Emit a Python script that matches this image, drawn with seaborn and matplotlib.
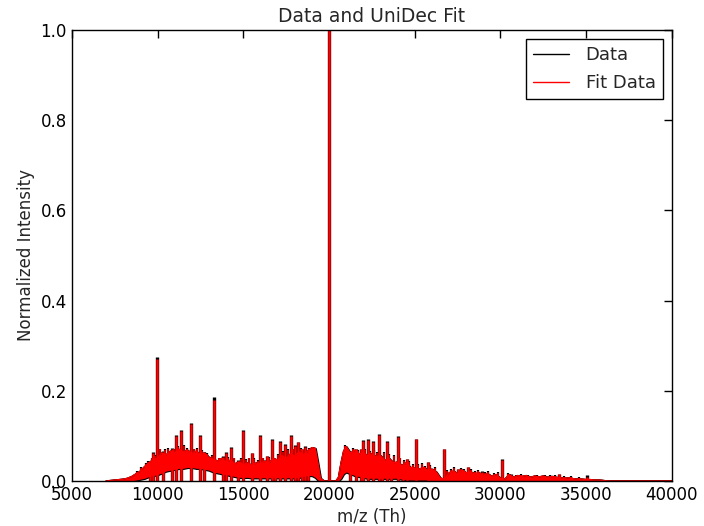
import matplotlib
matplotlib.use("Agg")
import matplotlib.pyplot as plt
import seaborn as sns
import pandas as pd

# Envelope of the dense charge-state region (m/z, upper edge, lower edge)
env_x = [7000, 7250, 7500, 7750, 8000, 8250, 8500, 8750, 9000, 9250, 9500, 9750,
         10000, 10250, 10500, 10750, 11000, 11250, 11500, 11750, 12000, 12250, 12500, 12750,
         13000, 13250, 13500, 13750, 14000, 14250, 14500, 14750, 15000, 15250, 15500, 15750,
         16000, 16250, 16500, 16750, 17000, 17250, 17500, 17750, 18000, 18250, 18500, 18750,
         19000, 19200, 19350, 19500, 19700, 20400, 20550, 20700, 20850, 21000, 21250, 21500,
         21750, 22000, 22250, 22500, 22750, 23000, 23250, 23500, 23750, 24000, 24250, 24500,
         24750, 25000, 25250, 25500, 25750, 26000, 26250, 26500, 26750, 27000, 27250, 27500,
         27750, 28000, 28250, 28500, 28750, 29000, 29250, 29500, 29750, 30000, 30250, 30500,
         30750, 31000, 31250, 31500, 31750, 32000, 32250, 32500, 32750, 33000, 33250, 33500,
         33750, 34000, 34250, 34500, 34750, 35000, 35250, 35500, 35750, 36000, 36250, 40000]
env_hi = [0.000, 0.001, 0.002, 0.003, 0.004, 0.006, 0.010, 0.016, 0.022, 0.032, 0.040, 0.048,
          0.050, 0.062, 0.058, 0.066, 0.062, 0.070, 0.064, 0.068, 0.060, 0.066, 0.058, 0.062,
          0.052, 0.048, 0.044, 0.050, 0.042, 0.046, 0.038, 0.042, 0.036, 0.040, 0.034, 0.040,
          0.038, 0.044, 0.040, 0.050, 0.046, 0.056, 0.050, 0.060, 0.055, 0.064, 0.058, 0.066,
          0.074, 0.072, 0.040, 0.006, 0.000, 0.000, 0.008, 0.040, 0.066, 0.076, 0.062, 0.068,
          0.060, 0.062, 0.056, 0.060, 0.054, 0.056, 0.046, 0.050, 0.040, 0.042, 0.034, 0.040,
          0.030, 0.028, 0.026, 0.030, 0.024, 0.026, 0.020, 0.006, 0.004, 0.018, 0.022, 0.016,
          0.024, 0.018, 0.020, 0.016, 0.018, 0.012, 0.016, 0.010, 0.014, 0.006, 0.004, 0.014,
          0.008, 0.012, 0.010, 0.012, 0.008, 0.011, 0.009, 0.011, 0.008, 0.010, 0.008, 0.007,
          0.006, 0.007, 0.005, 0.004, 0.004, 0.003, 0.003, 0.002, 0.002, 0.001, 0.000, 0.000]
env_lo = [0.000, 0.000, 0.000, 0.000, 0.000, 0.000, 0.000, 0.002, 0.004, 0.006, 0.010, 0.012,
          0.014, 0.018, 0.022, 0.024, 0.026, 0.028, 0.028, 0.030, 0.030, 0.028, 0.028, 0.026,
          0.024, 0.020, 0.018, 0.016, 0.014, 0.012, 0.010, 0.008, 0.008, 0.008, 0.007, 0.007,
          0.007, 0.007, 0.007, 0.007, 0.007, 0.007, 0.007, 0.007, 0.007, 0.008, 0.010, 0.012,
          0.012, 0.008, 0.002, 0.000, 0.000, 0.000, 0.000, 0.006, 0.016, 0.020, 0.016, 0.012,
          0.010, 0.008, 0.006, 0.006, 0.006, 0.006, 0.006, 0.006, 0.006, 0.006, 0.004, 0.003,
          0.002, 0.002, 0.002, 0.002, 0.002, 0.001, 0.001, 0.000, 0.000, 0.000, 0.000, 0.000,
          0.000, 0.000, 0.000, 0.000, 0.000, 0.000, 0.000, 0.000, 0.000, 0.000, 0.000, 0.000,
          0.000, 0.000, 0.000, 0.000, 0.000, 0.000, 0.000, 0.000, 0.000, 0.000, 0.000, 0.000,
          0.000, 0.000, 0.000, 0.000, 0.000, 0.000, 0.000, 0.000, 0.000, 0.000, 0.000, 0.000]

# Resolved peaks: position, measured height, fitted height
peak_x = [9570, 9745, 9960, 10330, 10850, 11070, 11360, 11950, 12470, 12720, 13310, 13830,
          13980, 14280, 14700, 14960, 15480, 15970, 16360, 16690, 16850, 17130, 17460, 17780,
          18010, 18200, 18440, 18600, 18750, 20020, 21220, 21570, 21840, 22000, 22250, 22540,
          22890, 23100, 23390, 23600, 24040, 24300, 24520, 25050, 25750, 26700, 27540, 28080,
          28900, 30060, 30590, 33410, 35020]
peak_data = [0.045, 0.064, 0.276, 0.066, 0.073, 0.102, 0.112, 0.128, 0.101, 0.064, 0.186, 0.055,
             0.064, 0.075, 0.046, 0.112, 0.062, 0.102, 0.056, 0.092, 0.049, 0.088, 0.081, 0.101,
             0.079, 0.087, 0.072, 0.077, 0.059, 1.020, 0.064, 0.071, 0.072, 0.091, 0.093, 0.088,
             0.104, 0.051, 0.088, 0.045, 0.099, 0.037, 0.049, 0.094, 0.042, 0.072, 0.027, 0.031,
             0.022, 0.049, 0.015, 0.016, 0.013]
peak_fit = [0.043, 0.062, 0.270, 0.065, 0.072, 0.100, 0.110, 0.126, 0.099, 0.062, 0.180, 0.054,
            0.063, 0.074, 0.045, 0.110, 0.061, 0.100, 0.055, 0.090, 0.048, 0.087, 0.080, 0.099,
            0.078, 0.086, 0.071, 0.076, 0.058, 1.000, 0.063, 0.070, 0.071, 0.089, 0.091, 0.086,
            0.102, 0.050, 0.086, 0.044, 0.097, 0.036, 0.048, 0.092, 0.041, 0.070, 0.026, 0.030,
            0.021, 0.047, 0.014, 0.015, 0.009]

# Minor unresolved spikes riding on the envelope: position, foot, tip
minor_x = [8800, 9050, 9300, 9450, 9650, 9850, 10150, 10450, 10600, 10950, 11200, 11550,
           11700, 12100, 12300, 12600, 12900, 13150, 13600, 14100, 14450, 14850, 15150, 15350,
           15650, 15850, 16150, 16500, 17000, 17300, 17600, 17900, 18350, 18850, 20950, 21100,
           21400, 21700, 22100, 22400, 22650, 22800, 23200, 23500, 23800, 24150, 24400, 24650,
           24900, 25200, 25400, 25600, 25900, 26200, 26900, 27100, 27300, 27700, 27900, 28300,
           28500, 28700, 29100, 29300, 29600, 29850, 30450, 30900, 31200, 31600, 32100, 32600,
           32900, 33200, 33700, 34100, 34600]
minor_lo = [0.002, 0.004, 0.006, 0.008, 0.011, 0.013, 0.016, 0.022, 0.023, 0.025, 0.027, 0.028,
            0.030, 0.030, 0.028, 0.027, 0.025, 0.022, 0.017, 0.014, 0.011, 0.008, 0.008, 0.008,
            0.007, 0.007, 0.007, 0.007, 0.007, 0.007, 0.007, 0.007, 0.009, 0.012, 0.018, 0.019,
            0.014, 0.011, 0.008, 0.006, 0.006, 0.006, 0.006, 0.006, 0.006, 0.005, 0.004, 0.003,
            0.002, 0.002, 0.002, 0.002, 0.001, 0.001, 0.000, 0.000, 0.000, 0.000, 0.000, 0.000,
            0.000, 0.000, 0.000, 0.000, 0.000, 0.000, 0.000, 0.000, 0.000, 0.000, 0.000, 0.000,
            0.000, 0.000, 0.000, 0.000, 0.000]
minor_hi = [0.020, 0.028, 0.038, 0.042, 0.050, 0.055, 0.070, 0.068, 0.072, 0.070, 0.075, 0.078,
            0.072, 0.070, 0.072, 0.066, 0.060, 0.055, 0.050, 0.052, 0.050, 0.048, 0.046, 0.050,
            0.048, 0.045, 0.050, 0.052, 0.058, 0.065, 0.068, 0.070, 0.072, 0.072, 0.078, 0.070,
            0.072, 0.066, 0.068, 0.065, 0.066, 0.062, 0.062, 0.058, 0.056, 0.050, 0.045, 0.042,
            0.036, 0.035, 0.038, 0.032, 0.034, 0.028, 0.022, 0.024, 0.028, 0.026, 0.024, 0.025,
            0.020, 0.022, 0.018, 0.020, 0.016, 0.018, 0.016, 0.012, 0.013, 0.012, 0.012, 0.011,
            0.012, 0.011, 0.008, 0.008, 0.006]

x_ticks = [5000, 10000, 15000, 20000, 25000, 30000, 35000, 40000]
y_ticks = [0.0, 0.2, 0.4, 0.6, 0.8, 1.0]

env = pd.DataFrame({"mz": env_x, "hi": env_hi, "lo": env_lo})
peaks = pd.DataFrame({"mz": peak_x, "data": peak_data, "fit": peak_fit})
minor = pd.DataFrame({"mz": minor_x, "lo": minor_lo, "hi": minor_hi})

sns.set_style("white")
plt.rcParams.update({
    "font.family": ["DejaVu Sans"],
    "xtick.direction": "in",
    "ytick.direction": "in",
    "xtick.top": True,
    "ytick.right": True,
    "xtick.major.size": 6,
    "ytick.major.size": 6,
    "xtick.major.width": 1.0,
    "ytick.major.width": 1.0,
    "axes.edgecolor": "black",
    "axes.linewidth": 1.0,
})

fig = plt.figure(figsize=(7.04, 5.26), dpi=100)
ax = fig.add_axes([0.102, 0.0856, 0.8525, 0.8574])

# Measured spectrum (black), drawn first
ax.fill_between(env["mz"], env["lo"], env["hi"], color="black", linewidth=1.6, zorder=1)
ax.vlines(minor["mz"], minor["lo"], minor["hi"] + 0.002, color="black", linewidth=1.6, zorder=1)
ax.vlines(peaks["mz"], 0, peaks["data"], color="black", linewidth=2.4, zorder=1)
sns.lineplot(data=env, x="mz", y="hi", color="black", linewidth=1.0, label="Data",
             estimator=None, sort=False, ax=ax, zorder=1)

# Fitted spectrum (red) on top
ax.fill_between(env["mz"], env["lo"], env["hi"], color="red", linewidth=0, zorder=2)
ax.vlines(minor["mz"], minor["lo"], minor["hi"], color="red", linewidth=1.1, zorder=2)
ax.vlines(peaks["mz"], 0, peaks["fit"], color="red", linewidth=1.8, zorder=2)
sns.lineplot(data=env, x="mz", y="hi", color="red", linewidth=0.6, label="Fit Data",
             estimator=None, sort=False, ax=ax, zorder=2)

ax.set_xlim(5000, 40000)
ax.set_ylim(0, 1.0)
ax.set_xticks(x_ticks)
ax.set_yticks(y_ticks)
ax.tick_params(labelsize=12, colors="black")
ax.set_xlabel("m/z (Th)", fontsize=12, labelpad=3)
ax.set_ylabel("Normalized Intensity", fontsize=12)
ax.set_title("Data and UniDec Fit", fontsize=13.5)

for line in ax.get_legend_handles_labels()[0]:
    line.set_linewidth(1.0)
leg = ax.legend(loc="upper right", fontsize=13, frameon=True, fancybox=False,
                edgecolor="black", framealpha=1.0, handlelength=2.0, handletextpad=0.9,
                borderpad=0.4, labelspacing=0.55)
leg.get_frame().set_linewidth(1.0)

fig.savefig("out.png", dpi=100, facecolor="white")
